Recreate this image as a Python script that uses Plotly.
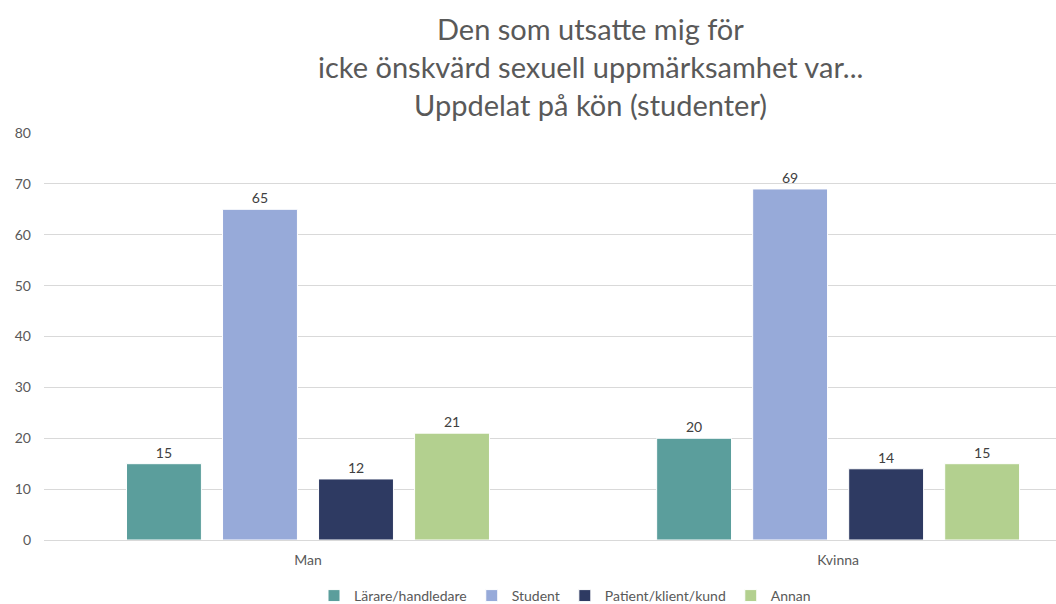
import plotly.graph_objects as go

categories = ["Man", "Kvinna"]
series_names = ["Lärare/handledare", "Student", "Patient/klient/kund", "Annan"]
larare = [15, 20]
student = [65, 69]
patient = [12, 14]
annan = [21, 15]
colors = ["#5B9E9C", "#97AAD9", "#2E3A62", "#B3D08F"]
title_lines = ["Den som utsatte mig för", "icke önskvärd sexuell uppmärksamhet var...", "Uppdelat på kön (studenter)"]
y_ticks = [0, 10, 20, 30, 40, 50, 60, 70, 80]

FONT = "Lato, 'Open Sans', sans-serif"
W, H = 1056, 604
L, R, T, B = 44, 0, 133, 64
PW, PH = W - L - R, H - T - B

fig = go.Figure()
for name, vals, col in zip(series_names, [larare, student, patient, annan], colors):
    fig.add_trace(go.Bar(
        x=categories, y=vals, name=name,
        marker=dict(color=col, line=dict(color="white", width=1)),
        text=[str(v) for v in vals], textposition="outside",
        textfont=dict(size=14, color="#404040", family=FONT),
        cliponaxis=False, hoverinfo="skip",
    ))

annotations = []
for i, line in enumerate(title_lines):
    annotations.append(dict(
        text=line, xref="paper", yref="paper", x=(590 - L) / PW, y=1 + (T - (28 + i * 38)) / PH,
        xanchor="center", yanchor="middle", showarrow=False,
        font=dict(size=29, color="#595959", family=FONT),
    ))

fig.update_layout(
    width=W, height=H,
    margin=dict(l=L, r=R, t=T, b=B, autoexpand=False),
    paper_bgcolor="white", plot_bgcolor="white",
    barmode="group", bargap=0.2755, bargroupgap=0.22,
    annotations=annotations,
    font=dict(family=FONT, color="#595959", size=13),
    legend=dict(orientation="h", x=(565 - L) / PW, xanchor="center", y=-(596 - (T + PH)) / PH, yanchor="middle",
                font=dict(size=14, color="#595959", family=FONT), traceorder="normal"),
    showlegend=True,
)
fig.update_xaxes(type="category", range=[-0.498, 1.411], showgrid=False, showline=False, automargin=False,
                 ticks="", tickfont=dict(size=14, color="#595959"), ticklabelstandoff=10)
fig.update_yaxes(range=[0, 80], tickvals=y_ticks, showgrid=True, gridcolor="#D9D9D9", gridwidth=1, automargin=False,
                 zeroline=True, zerolinecolor="#D9D9D9", zerolinewidth=1, showline=False,
                 ticks="", tickfont=dict(size=14, color="#595959"), ticklabelstandoff=12)

fig.write_html("out.html", config={"displayModeBar": False},
               post_script="document.body.style.margin='0';document.body.style.overflow='hidden';")
